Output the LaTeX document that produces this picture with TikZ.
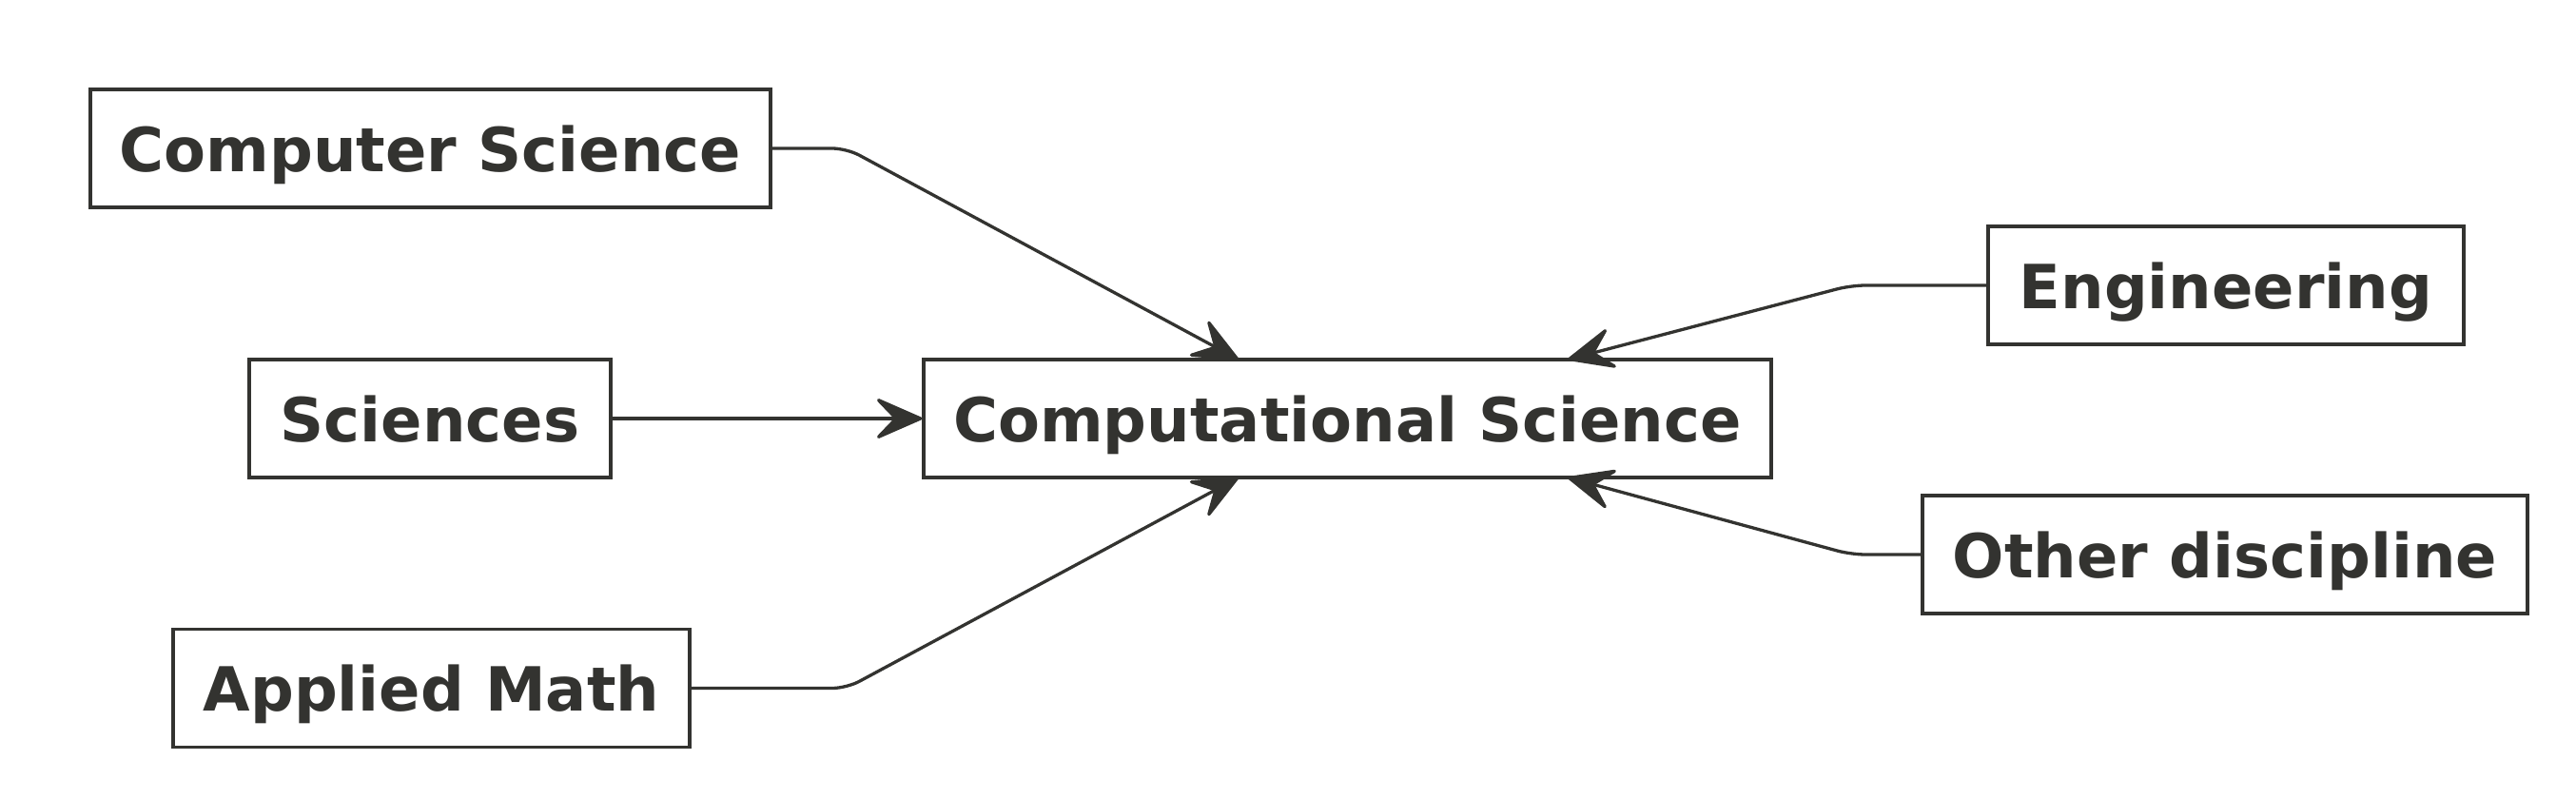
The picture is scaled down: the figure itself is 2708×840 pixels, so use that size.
\documentclass[tikz,border=0pt]{standalone}
\usepackage{fontspec}
\setmainfont{DejaVu Sans}
\usetikzlibrary{arrows.meta}
\definecolor{ink}{RGB}{51,51,48}
\tikzset{
  box/.style={draw=ink, line width=3.3pt, fill=white, text=ink, minimum height=124pt,
    inner sep=0pt, text height=64pt, text depth=16pt,
    font=\fontsize{64}{76}\selectfont\bfseries},
  conn/.style={draw=ink, line width=3.3pt, rounded corners=15pt,
    -{Stealth[length=55pt,width=48pt,inset=23pt,round]}}
}
\begin{document}
\begin{tikzpicture}[x=1pt,y=-1pt]
\useasboundingbox (0,0) rectangle (2708,840);
\node[box, minimum width=715pt] (cs) at (452.5,156) {Computer Science};
\node[box, minimum width=380pt] (sci) at (452,440) {Sciences};
\node[box, minimum width=543pt] (am) at (453.5,723.5) {Applied Math};
\node[box, minimum width=891pt] (cmp) at (1416.5,440) {Computational Science};
\node[box, minimum width=500pt] (eng) at (2340,300) {Engineering};
\node[box, minimum width=636pt] (oth) at (2339,583) {Other discipline};
\coordinate (c1) at (890,156);
\coordinate (t1) at (1302,378);
\coordinate (c3) at (890,723.5);
\coordinate (t3) at (1302,502);
\coordinate (c4) at (1946,300);
\coordinate (t4) at (1648,378);
\coordinate (c5) at (1946,583);
\coordinate (t5) at (1648,502);
\draw[conn] (cs.east) -- (c1) -- (t1);
\draw[conn] (sci.east) -- (cmp.west);
\draw[conn] (am.east) -- (c3) -- (t3);
\draw[conn] (eng.west) -- (c4) -- (t4);
\draw[conn] (oth.west) -- (c5) -- (t5);
\end{tikzpicture}
\end{document}
